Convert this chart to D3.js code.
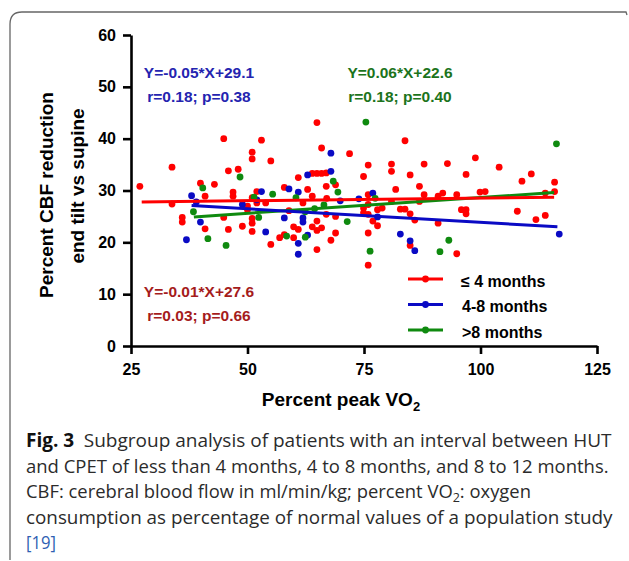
<!DOCTYPE html>
<html>
<head>
<meta charset="utf-8">
<script src="https://cdn.jsdelivr.net/npm/d3@7"></script>
<style>
  body { margin: 0; background: #fff; }
  svg { display: block; }
  .axis path, .axis line { stroke: #000; stroke-width: 2.6; }
  .axis text { font: bold 16px "Liberation Sans", Arial, sans-serif; fill: #000; }
  .axis-label { font: bold 19px "Liberation Sans", Arial, sans-serif; fill: #000; }
  .stat { font: bold 15.5px "Liberation Sans", Arial, sans-serif; text-anchor: middle; }
  .legend-text { font: bold 16px "Liberation Sans", Arial, sans-serif; fill: #000; }
  .caption { font: 19px "Open Sans", "Noto Sans", sans-serif; fill: #2b2b2b; }
</style>
</head>
<body>
<div class="chart-container"></div>
<script>
var totalWidth = 629;
var totalHeight = 561;

// ticks
var xTicks = [25, 50, 75, 100, 125];
var yTicks = [0, 10, 20, 30, 40, 50, 60];

// groups: interval between HUT and CPET
var groupNames = ['\u2264 4 months', '4-8 months', '>8 months'];
var groupColors = ['#ff0000', '#0a0ac4', '#0f8a0f'];
var statColors = ['#a51c1c', '#2424b0', '#1c741c'];

// [percent peak VO2, percent CBF reduction]
var le4Points = [
  [26.9,30.8],[33.8,34.5],[33.8,27.4],[36.0,24.8],[36.0,23.9],[39.9,31.4],[40.9,28.9],[40.9,22.6],
  [42.9,31.2],[44.9,40.0],[44.9,24.8],[45.9,33.8],[45.9,22.5],[46.9,29.7],[46.9,28.9],[48.0,34.1],
  [48.9,23.1],[50.0,27.0],[50.0,26.3],[51.0,37.4],[51.0,36.1],[51.0,28.6],[51.0,24.6],[51.0,23.7],
  [51.0,22.1],[52.0,29.8],[52.0,27.6],[53.0,39.7],[53.9,27.6],[55.0,35.7],[55.0,19.6],[56.9,20.9],
  [57.9,30.6],[57.9,21.5],[58.9,26.1],[59.9,23.0],[59.9,20.9],[60.9,32.5],[60.9,22.5],[61.9,27.6],
  [62.9,30.2],[63.9,33.3],[63.9,28.9],[63.9,23.0],[64.9,33.3],[65.9,33.3],[66.9,33.4],[64.9,43.1],
  [64.9,24.1],[64.9,22.3],[64.9,18.6],[65.9,38.2],[65.9,22.8],[66.9,25.4],[66.9,30.8],[67.0,28.5],
  [67.9,20.4],[68.9,31.1],[68.9,25.0],[68.9,21.8],[71.9,37.1],[74.9,32.7],[74.9,26.6],[74.9,25.7],
  [75.9,34.9],[75.9,29.2],[75.9,27.3],[75.9,25.4],[75.9,21.8],[75.9,15.6],[76.9,24.1],[77.9,23.2],
  [77.9,26.3],[78.9,26.6],[80.9,35.1],[80.9,33.7],[80.9,27.9],[81.8,30.2],[82.8,26.4],[83.8,39.6],
  [83.8,26.4],[84.9,33.0],[84.9,25.5],[84.9,19.4],[85.9,24.3],[86.9,30.8],[86.9,27.9],[87.9,35.1],
  [87.9,29.2],[90.9,23.7],[90.9,28.9],[91.9,29.5],[92.9,35.2],[94.9,29.2],[94.9,17.8],[95.9,26.3],
  [96.9,33.1],[96.9,26.3],[96.9,25.5],[98.9,36.3],[99.9,29.7],[101.0,29.8],[104.0,34.5],[107.9,26.0],
  [108.9,31.8],[110.9,33.2],[111.9,24.4],[113.9,25.2],[113.9,29.5],[115.9,31.6],[115.9,29.8]
];
var mid48Points = [
  [36.9,20.5],[38.0,29.0],[39.0,27.8],[39.9,23.9],[48.9,27.3],[52.0,28.2],[53.0,29.8],[53.9,22.0],
  [57.9,24.7],[58.9,30.3],[60.9,29.7],[60.9,19.8],[60.9,17.7],[61.9,24.7],[61.9,23.9],[62.9,33.0],
  [62.9,21.4],[67.9,37.2],[67.9,33.7],[69.9,28.0],[73.9,28.4],[76.9,29.5],[77.9,24.9],[82.8,21.6],
  [84.9,20.3],[85.9,18.4],[116.9,21.6]
];
var gt8Points = [
  [38.4,25.9],[40.4,30.5],[41.5,20.7],[45.4,19.4],[48.4,32.6],[51.4,28.7],[52.4,24.8],[55.4,29.3],
  [58.4,21.2],[60.4,28.6],[62.4,25.9],[62.4,21.0],[64.4,26.5],[66.4,27.2],[68.4,31.8],[69.4,29.7],
  [71.4,24.0],[75.4,43.2],[76.3,18.3],[77.4,28.5],[91.3,18.2],[93.2,20.4],[116.3,39.0]
];

// fitted lines as drawn: [[x0, y0], [x1, y1]]
var fitLines = [
  [[27.3, 27.8], [115.8, 28.7]],
  [[38.0, 27.1], [116.5, 23.0]],
  [[38.5, 24.9], [115.8, 29.6]]
];

var statLines = [
  ['Y=-0.01*X+27.6', 'r=0.03; p=0.66'],
  ['Y=-0.05*X+29.1', 'r=0.18; p=0.38'],
  ['Y=0.06*X+22.6', 'r=0.18; p=0.40']
];

var svg = d3.select('.chart-container').append('svg')
  .attr('width', totalWidth)
  .attr('height', totalHeight);

// figure frame (top + left edge, rounded corner)
svg.append('path')
  .attr('d', 'M627,15 L626,12 L22,12 Q10,12 10,24 L10,560')
  .attr('fill', 'none')
  .attr('stroke', '#666')
  .attr('stroke-width', 1.3);

var x = d3.scaleLinear().domain([25, 125]).range([131, 597]);
var y = d3.scaleLinear().domain([0, 60]).range([346, 35]);

var gX = svg.append('g')
  .attr('class', 'axis')
  .attr('transform', `translate(0, ${y(0)})`)
  .call(d3.axisBottom(x).tickValues(xTicks).tickSize(8).tickSizeOuter(0).tickPadding(6));
gX.selectAll('text').attr('dy', '0.95em');

var gY = svg.append('g')
  .attr('class', 'axis')
  .attr('transform', `translate(${x(25)}, 0)`)
  .call(d3.axisLeft(y).tickValues(yTicks).tickSize(8).tickSizeOuter(0).tickPadding(7));

// points
var groups = [le4Points, mid48Points, gt8Points];
groups.forEach(function(pts, i) {
  svg.append('g').selectAll('circle')
    .data(pts).enter()
    .append('circle')
      .attr('cx', d => x(d[0]))
      .attr('cy', d => y(d[1]))
      .attr('r', 3.4)
      .attr('fill', groupColors[i]);
});

// regression lines
[2, 1, 0].forEach(function(i) {
  svg.append('line')
    .attr('x1', x(fitLines[i][0][0])).attr('y1', y(fitLines[i][0][1]))
    .attr('x2', x(fitLines[i][1][0])).attr('y2', y(fitLines[i][1][1]))
    .attr('stroke', groupColors[i])
    .attr('stroke-width', 3);
});

// equations
var statPos = [[199, 297], [199, 78], [400, 78]];
statLines.forEach(function(lines, i) {
  var t = svg.append('text')
    .attr('class', 'stat')
    .attr('fill', statColors[i]);
  lines.forEach(function(s, j) {
    t.append('tspan')
      .attr('x', statPos[i][0])
      .attr('y', statPos[i][1] + j * 24)
      .text(s);
  });
});

// legend
var legend = svg.append('g').attr('transform', 'translate(408, 279)');
groupNames.forEach(function(name, i) {
  var row = legend.append('g').attr('transform', `translate(0, ${i * 25.5})`);
  row.append('line')
    .attr('x1', 0).attr('x2', 35)
    .attr('stroke', groupColors[i])
    .attr('stroke-width', 3);
  row.append('circle')
    .attr('cx', 17.5).attr('r', 3.4)
    .attr('fill', groupColors[i]);
  row.append('text')
    .attr('class', 'legend-text')
    .attr('x', i === 0 ? 53 : 54)
    .attr('y', 7.5)
    .text(name);
});

// axis labels
var xl = svg.append('text')
  .attr('class', 'axis-label')
  .attr('x', 341)
  .attr('y', 406)
  .attr('text-anchor', 'middle');
xl.append('tspan').text('Percent peak VO');
xl.append('tspan').attr('dy', 5).attr('font-size', 13).text('2');

svg.append('text')
  .attr('class', 'axis-label')
  .attr('text-anchor', 'middle')
  .attr('transform', 'translate(53, 195) rotate(-90)')
  .text('Percent CBF reduction');
svg.append('text')
  .attr('class', 'axis-label')
  .attr('text-anchor', 'middle')
  .attr('transform', 'translate(84, 186) rotate(-90)')
  .text('end tilt vs supine');

/*
 * Caption: each line squeezed horizontally to the reference width
 */
var cap = svg.append('g').attr('class', 'caption');

function captionLine(yPos, targetWidth, build) {
  var g = cap.append('g');
  var t = g.append('text');
  build(t);
  var w = t.node().getComputedTextLength();
  g.attr('transform', `translate(26, ${yPos}) scale(${targetWidth / w}, 1)`);
  return t;
}

captionLine(447, 586, function(t) {
  t.append('tspan').attr('font-weight', 'bold').attr('fill', '#111').text('Fig. 3');
  t.append('tspan').text('\u2002Subgroup analysis of patients with an interval between HUT');
});
captionLine(472.5, 583, function(t) {
  t.text('and CPET of less than 4 months, 4 to 8 months, and 8 to 12 months.');
});
captionLine(498, 505, function(t) {
  t.append('tspan').text('CBF: cerebral blood flow in ml/min/kg; percent VO');
  t.append('tspan').attr('baseline-shift', '-4').attr('font-size', 13).text('2');
  t.append('tspan').text(': oxygen');
});
captionLine(523.5, 587, function(t) {
  t.text('consumption as percentage of normal values of a population study');
});
captionLine(549, 30, function(t) {
  t.attr('fill', '#2f5fb3').text('[19]');
});
</script>
</body>
</html>
